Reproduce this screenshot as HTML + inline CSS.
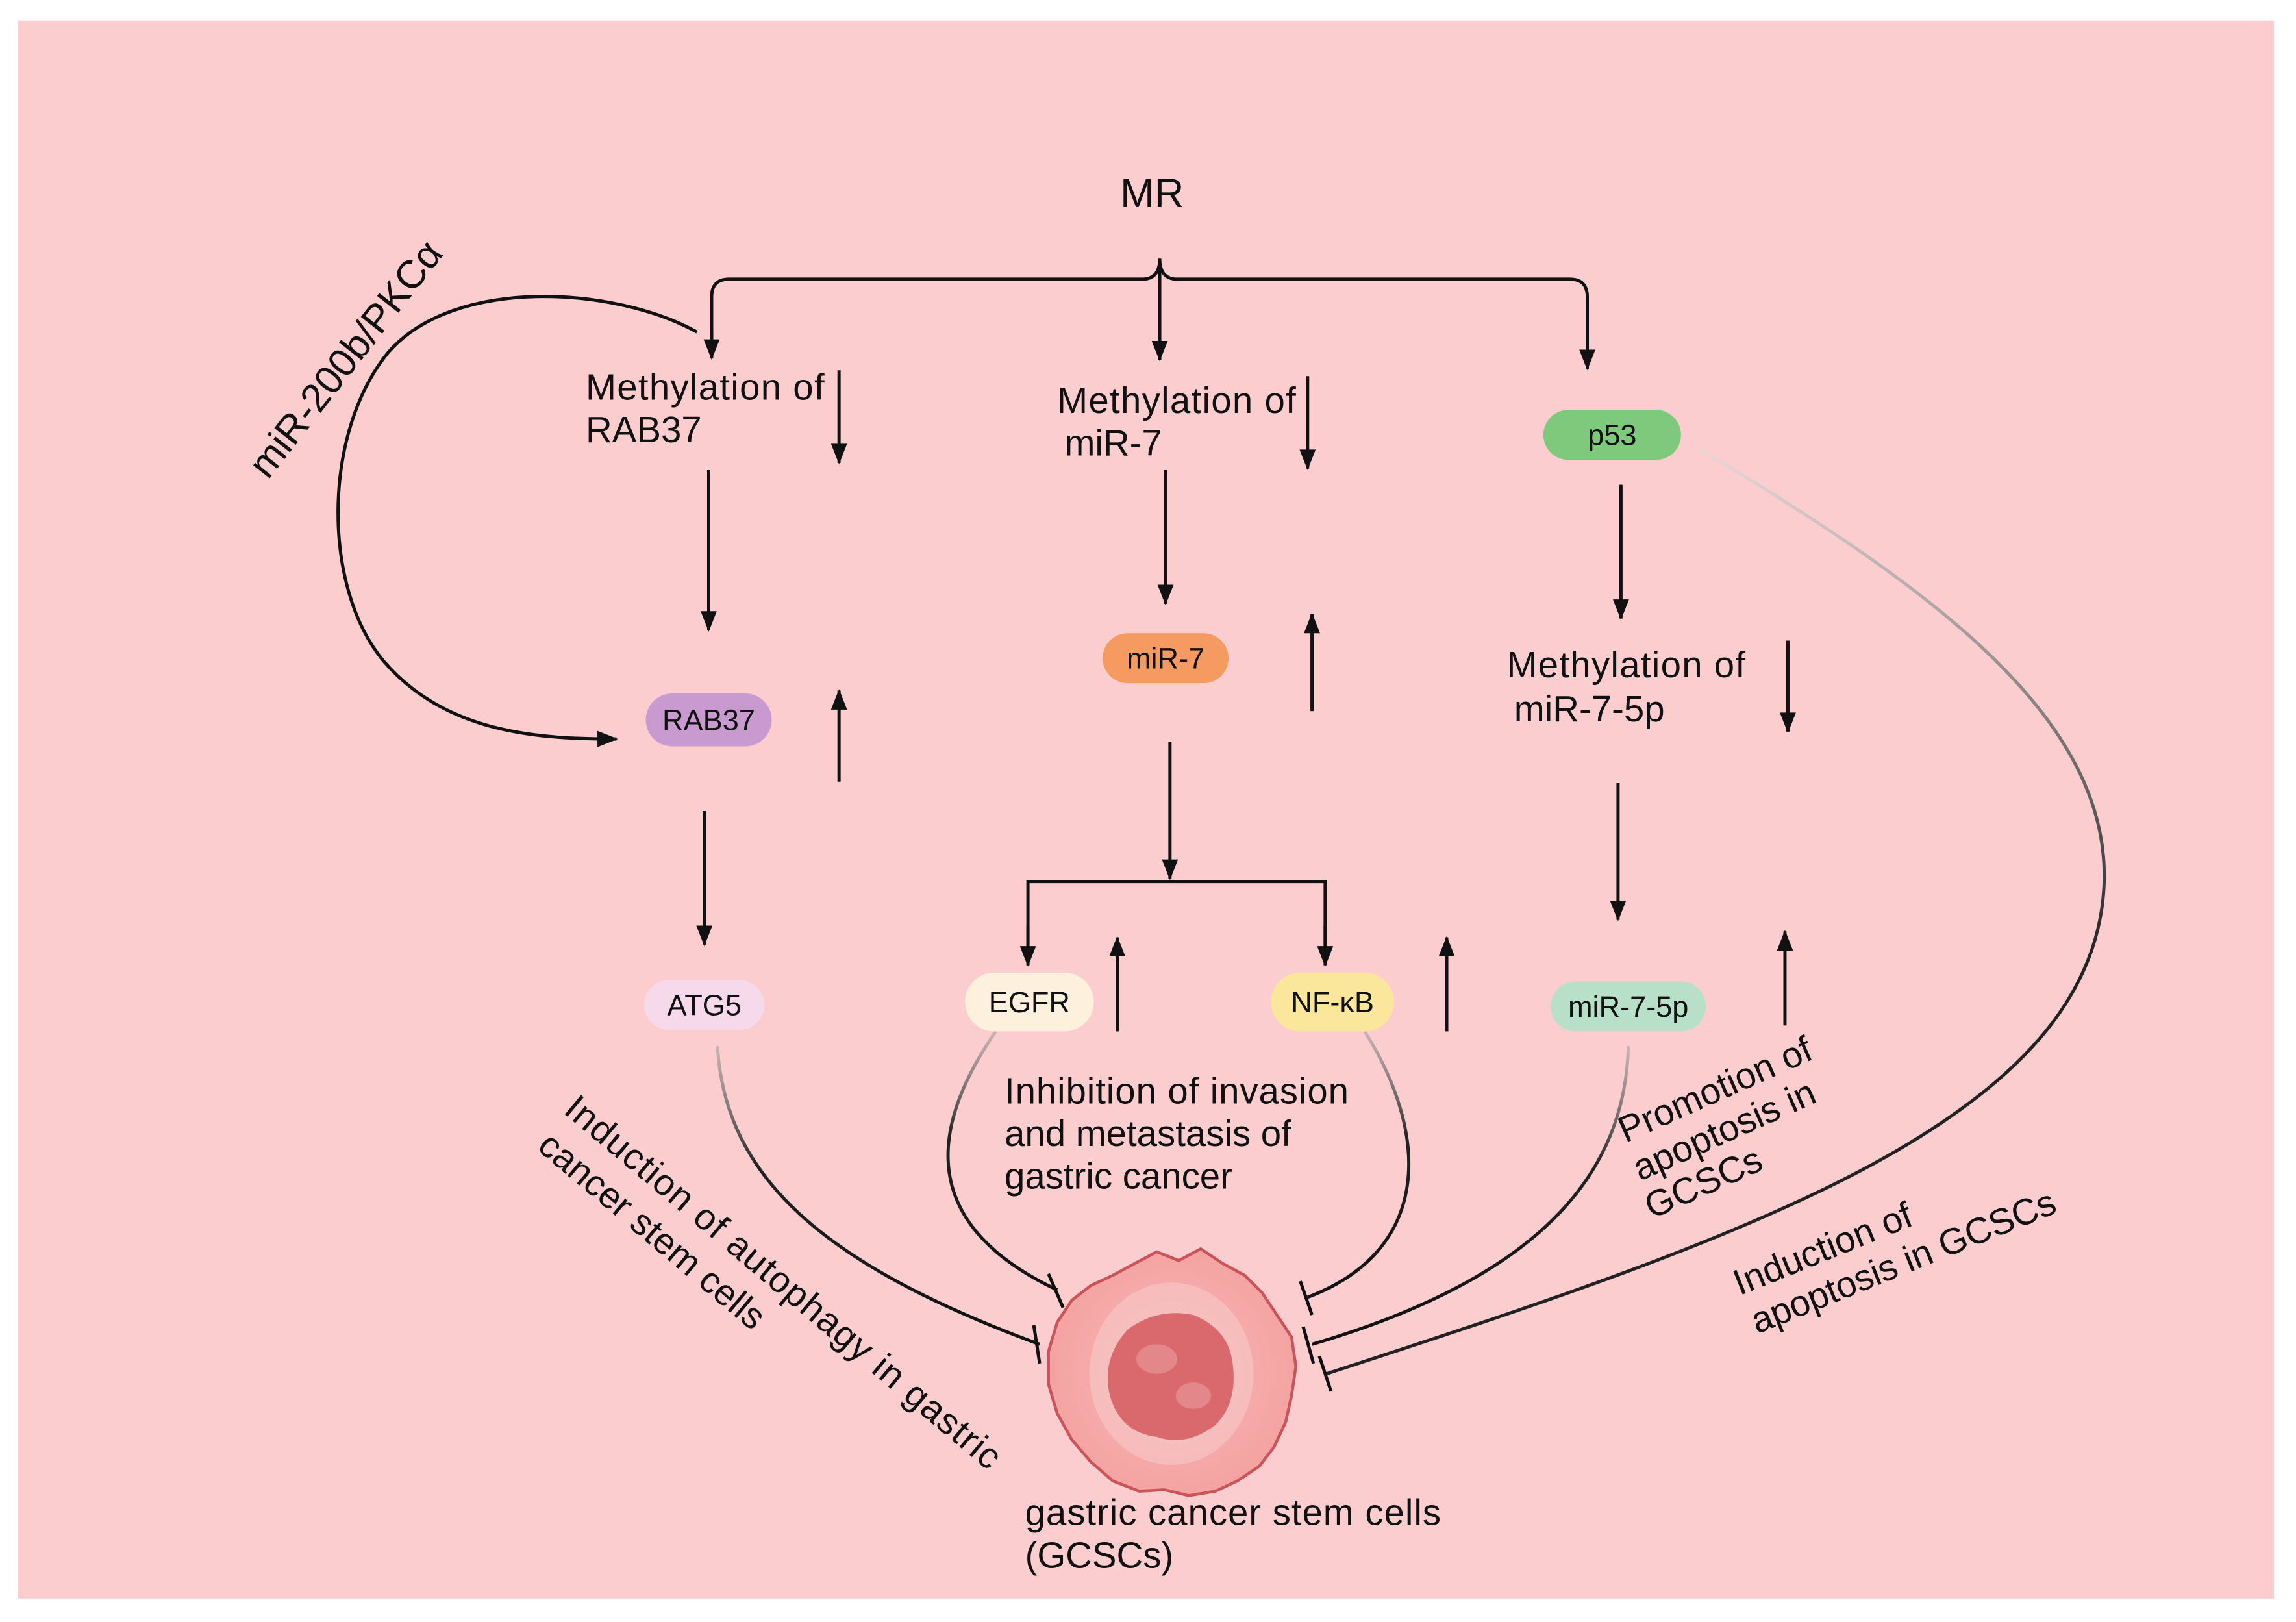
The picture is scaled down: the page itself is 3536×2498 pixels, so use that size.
<!DOCTYPE html>
<html><head><meta charset="utf-8"><style>
html,body{margin:0;padding:0;background:#fff}
svg{display:block}
text{font-family:"Liberation Sans",sans-serif;fill:#111}
</style></head><body>
<svg width="3536" height="2498" viewBox="0 0 1568 1104" preserveAspectRatio="none" xmlns="http://www.w3.org/2000/svg">
<defs>
<marker id="a" viewBox="-1 -7 16 14" refX="13" refY="0" markerWidth="16" markerHeight="14" orient="auto" markerUnits="userSpaceOnUse">
<path d="M0,-5.5 L14,0 L0,5.5 z" fill="#111"/>
</marker>
<linearGradient id="g1" x1="0" y1="0" x2="0" y2="1"><stop offset="0" stop-color="#999" stop-opacity=".5"/><stop offset=".4" stop-color="#222"/><stop offset="1" stop-color="#111"/></linearGradient>
<linearGradient id="g2" gradientUnits="userSpaceOnUse" x1="1160" y1="305" x2="1300" y2="700"><stop offset="0" stop-color="#ddd" stop-opacity=".6"/><stop offset="1" stop-color="#222"/></linearGradient>
<radialGradient id="cg" cx=".5" cy=".5" r=".5"><stop offset="0" stop-color="#f8b9b7"/><stop offset="1" stop-color="#f4a3a2"/></radialGradient>
</defs>
<rect x="0" y="0" width="1568" height="1104" fill="#fff"/>
<rect x="12" y="14" width="1541" height="1074" fill="#fccdcf"/>

<g stroke="#111" stroke-width="2.2" fill="none">
<path d="M486,236 V202 Q486,190 498,190 H780 Q792,190 792,176 Q792,190 804,190 H1072 Q1084,190 1084,202 V240" />
<line x1="792" y1="182" x2="792" y2="236"/>
<line x1="486" y1="225" x2="486" y2="244" marker-end="url(#a)"/>
<line x1="1084" y1="230" x2="1084" y2="251" marker-end="url(#a)"/>
<line x1="792" y1="220" x2="792" y2="245" marker-end="url(#a)"/>
<line x1="573" y1="252" x2="573" y2="315" marker-end="url(#a)"/>
<line x1="484" y1="320" x2="484" y2="429" marker-end="url(#a)"/>
<line x1="573" y1="532" x2="573" y2="470" marker-end="url(#a)"/>
<line x1="481" y1="552" x2="481" y2="643" marker-end="url(#a)"/>
<line x1="893" y1="256" x2="893" y2="319" marker-end="url(#a)"/>
<line x1="796" y1="320" x2="796" y2="411" marker-end="url(#a)"/>
<line x1="896" y1="484" x2="896" y2="418" marker-end="url(#a)"/>
<line x1="799" y1="505" x2="799" y2="598" marker-end="url(#a)"/>
<path d="M702,645 V600 H905 V645"/>
<line x1="702" y1="630" x2="702" y2="657" marker-end="url(#a)"/>
<line x1="905" y1="630" x2="905" y2="657" marker-end="url(#a)"/>
<line x1="763" y1="702" x2="763" y2="638" marker-end="url(#a)"/>
<line x1="988" y1="702" x2="988" y2="638" marker-end="url(#a)"/>
<line x1="1107" y1="330" x2="1107" y2="421" marker-end="url(#a)"/>
<line x1="1221" y1="436" x2="1221" y2="498" marker-end="url(#a)"/>
<line x1="1105" y1="533" x2="1105" y2="626" marker-end="url(#a)"/>
<line x1="1219" y1="698" x2="1219" y2="634" marker-end="url(#a)"/>
<path d="M476,226 C420,195 310,188 265,240 C220,295 220,400 262,450 C305,500 370,503 421,503" marker-end="url(#a)"/>
</g>

<g fill="none" stroke-width="2.2">
<path d="M490,712 C495,800 560,860 710,915" stroke="url(#g1)"/>
<line x1="706" y1="902" x2="710" y2="928" stroke="#111"/>
<path d="M680,702 C640,760 620,830 722,878" stroke="url(#g1)"/>
<line x1="716" y1="867" x2="726" y2="890" stroke="#111"/>
<path d="M932,702 C975,770 980,850 893,883" stroke="url(#g1)"/>
<line x1="888" y1="872" x2="896" y2="895" stroke="#111"/>
<path d="M1112,712 C1110,800 1050,870 896,915" stroke="url(#g1)"/>
<line x1="890" y1="903" x2="897" y2="928" stroke="#111"/>
<path d="M1160,305 C1300,390 1440,480 1437,600 C1432,760 1200,840 906,935" stroke="url(#g2)"/>
<line x1="901" y1="923" x2="909" y2="947" stroke="#111"/>
</g>

<g>
<rect x="441" y="472" width="86" height="36" rx="18" fill="#c99ad0"/>
<rect x="440" y="667" width="82" height="34" rx="17" fill="#f7d9ec"/>
<rect x="753" y="431" width="86" height="34" rx="17" fill="#f59a60"/>
<rect x="659" y="662" width="88" height="40" rx="20" fill="#fdf0dc"/>
<rect x="868" y="662" width="84" height="40" rx="20" fill="#fbe79b"/>
<rect x="1054" y="279" width="94" height="34" rx="17" fill="#7ec97c"/>
<rect x="1059" y="668" width="106" height="34" rx="17" fill="#b8e0c8"/>
</g>
<g font-size="20" text-anchor="middle">
<text x="484" y="497">RAB37</text>
<text x="481" y="691">ATG5</text>
<text x="796" y="455">miR-7</text>
<text x="703" y="689">EGFR</text>
<text x="910" y="689">NF-κB</text>
<text x="1101" y="303">p53</text>
<text x="1112" y="692">miR-7-5p</text>
</g>

<g>
<path d="M760,868 L775,860 L790,852 L805,858 L820,850 L835,860 L850,868 L862,880 L872,895 L882,910 L885,930 L882,950 L878,968 L870,985 L860,998 L845,1008 L830,1015 L812,1018 L795,1014 L778,1015 L760,1008 L745,995 L732,980 L722,962 L716,942 L716,920 L722,900 L732,885 L745,875 Z" fill="url(#cg)" stroke="#c9545a" stroke-width="2" stroke-linejoin="round"/>
<ellipse cx="800" cy="935" rx="56" ry="62" fill="#f6c4c4" opacity=".7"/>
<path d="M770,905 Q790,890 815,895 Q840,905 842,930 Q845,955 830,970 Q810,985 790,978 Q765,975 758,950 Q752,925 770,905 Z" fill="#d9696d"/>
<ellipse cx="790" cy="925" rx="14" ry="10" fill="#e4878a"/>
<ellipse cx="815" cy="950" rx="12" ry="9" fill="#e4878a"/>
</g>

<g font-size="25">
<text x="765" y="141" font-size="28">MR</text>
<text x="400" y="272" textLength="163">Methylation of</text>
<text x="400" y="301">RAB37</text>
<text x="722" y="281" textLength="163">Methylation of</text>
<text x="727" y="310">miR-7</text>
<text x="1029" y="461" textLength="163">Methylation of</text>
<text x="1034" y="491">miR-7-5p</text>
<text x="686" y="751" textLength="235">Inhibition of invasion</text>
<text x="686" y="780">and metastasis of</text>
<text x="686" y="809">gastric cancer</text>
<text x="700" y="1038" textLength="284">gastric cancer stem cells</text>
<text x="700" y="1067">(GCSCs)</text>
<text transform="translate(183,327) rotate(-52)" font-size="27">miR-200b/PKCα</text>
<text transform="translate(384,757) rotate(40)" textLength="380">Induction of autophagy in gastric</text>
<text transform="translate(366,782) rotate(40)">cancer stem cells</text>
<text transform="translate(1110,778) rotate(-24)">Promotion of</text>
<text transform="translate(1120,804) rotate(-24)">apoptosis in</text>
<text transform="translate(1128,830) rotate(-24)">GCSCs</text>
<text transform="translate(1188,882) rotate(-22)">Induction of</text>
<text transform="translate(1200,908) rotate(-22)" textLength="222">apoptosis in GCSCs</text>
</g>
</svg>
</body></html>
